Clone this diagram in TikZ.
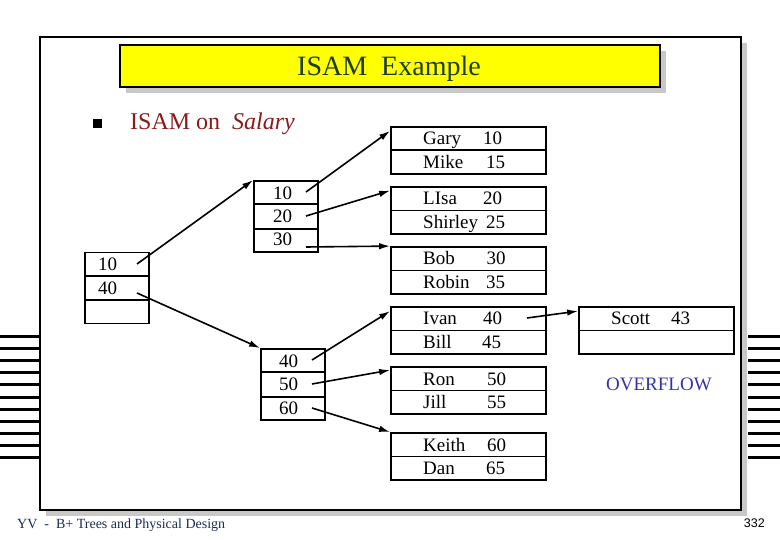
\documentclass[tikz,border=0pt]{standalone}
\usepackage{fontspec}
\setmainfont{Liberation Serif}
\newfontfamily\numfont{Liberation Sans}
\usetikzlibrary{arrows.meta,calc}
\definecolor{shadowgray}{RGB}{200,200,200}
\definecolor{titlegreen}{RGB}{30,60,30}
\definecolor{bulletred}{RGB}{139,26,26}
\definecolor{overblue}{RGB}{51,51,170}
\definecolor{footnavy}{RGB}{25,45,85}
\definecolor{titleyellow}{RGB}{255,255,0}
\begin{document}
\begin{tikzpicture}[x=1pt,y=-1pt,
  txt/.style={inner sep=0pt, anchor=base west, font=\fontsize{19}{21}\selectfont},
  idxbox/.style={draw, line width=1.8pt, minimum width=64pt, minimum height=71pt, inner sep=0pt},
  databox/.style={draw, line width=1.8pt, minimum width=155pt, minimum height=47pt, inner sep=0pt},
  divider/.style={line width=1.8pt},
  link/.style={line width=1.6pt, -{Latex[length=11pt,width=6.5pt]}},
  stripe/.style={line width=3pt},
]
\useasboundingbox (0,0) rectangle (780,540);
% side stripes
\foreach \i in {0,...,10}{
  \draw[stripe] (0,{337+12*\i}) -- (40,{337+12*\i});
  \draw[stripe] (748,{337+12*\i}) -- (780,{337+12*\i});
}
% frame
\fill[shadowgray] (46,43) rectangle (747,516);
\node[draw, fill=white, line width=2pt, minimum width=701pt, minimum height=473pt, inner sep=0pt] (frame) at (390.5,273.5) {};
% title
\fill[shadowgray] (126,51) rectangle (666,93);
\node[draw, fill=titleyellow, line width=1.8pt, minimum width=540pt, minimum height=42pt, inner sep=0pt] (title) at (390,66) {};
\node[anchor=base, inner sep=0pt, text=titlegreen, font=\fontsize{28}{30}\selectfont] (titletext) at (389,76) {ISAM\ \ Example};
% bullet
\node[fill=black, minimum size=9.5pt, inner sep=0pt] (bullet) at (97.7,123.3) {};
\node[anchor=base west, inner sep=0pt, text=bulletred, font=\fontsize{24}{26}\selectfont] (heading) at (130,129.5) {ISAM on\ \ \textit{Salary}};

% index nodes
\node[idxbox] (root) at (117,288) {};
\node[idxbox] (A) at (286,216.5) {};
\node[idxbox] (B) at (293,384.5) {};
\foreach \n in {root,A,B}{
  \draw[divider] ($(\n.north west)!0.3333!(\n.south west)$) -- ($(\n.north east)!0.3333!(\n.south east)$);
  \draw[divider] ($(\n.north west)!0.6667!(\n.south west)$) -- ($(\n.north east)!0.6667!(\n.south east)$);
}
\node[txt] (r10) at (98,271) {10};
\node[txt] (r40) at (98,294.5) {40};
\node[txt] (a10) at (273,199.2) {10};
\node[txt] (a20) at (273,222.5) {20};
\node[txt] (a30) at (273,245.8) {30};
\node[txt] (b40) at (279,367) {40};
\node[txt] (b50) at (279,390.5) {50};
\node[txt] (b60) at (279,414) {60};

% data pages
\node[databox] (gary) at (468.5,150.25) {};
\node[databox] (lisa) at (468.5,210.5) {};
\node[databox] (bob) at (468.5,270.5) {};
\node[databox] (ivan) at (468.5,330.5) {};
\node[databox] (ron) at (468.5,390.5) {};
\node[databox] (keith) at (468.5,456.5) {};
\node[databox] (scott) at (656.5,330.5) {};
\foreach \n in {gary,lisa,bob,ivan,ron,keith,scott}{
  \draw[divider] (\n.west) -- (\n.east);
}
\node[txt] (t1) at (423,145) {Gary};   \node[txt] (n1) at (483,145) {10};
\node[txt] (t2) at (423,168.5) {Mike}; \node[txt] (n2) at (486,168.5) {15};
\node[txt] (t3) at (423,205) {LIsa};   \node[txt] (n3) at (483,205) {20};
\node[txt] (t4) at (423,228.5) {Shirley}; \node[txt] (n4) at (486,228.5) {25};
\node[txt] (t5) at (423,265) {Bob};    \node[txt] (n5) at (486.5,265) {30};
\node[txt] (t6) at (423,288.5) {Robin}; \node[txt] (n6) at (486,288.5) {35};
\node[txt] (t7) at (423,325) {Ivan};   \node[txt] (n7) at (483,325) {40};
\node[txt] (t8) at (423,348.5) {Bill}; \node[txt] (n8) at (482,348.5) {45};
\node[txt] (t9) at (423,385) {Ron};    \node[txt] (n9) at (487,385) {50};
\node[txt] (t10) at (423,408.5) {Jill}; \node[txt] (n10) at (487,408.5) {55};
\node[txt] (t11) at (423,451) {Keith}; \node[txt] (n11) at (487,451) {60};
\node[txt] (t12) at (423,474.5) {Dan};  \node[txt] (n12) at (486,474.5) {65};
\node[txt] (t13) at (611,325) {Scott}; \node[txt] (n13) at (671,325) {43};
\node[txt, text=overblue] (overflow) at (606,390.5) {OVERFLOW};

% connectors
\coordinate (sr1) at (137,264);
\coordinate (sr2) at (137,293);
\coordinate (sa1) at (306,192);
\coordinate (sa2) at (306,216);
\coordinate (sa3) at (306,247);
\coordinate (sb1) at (312,360);
\coordinate (sb2) at (312,384);
\coordinate (sb3) at (312,408);
\coordinate (si1) at (527,318);
\draw[link] (sr1) -- (A.north west);
\draw[link] (sr2) -- (B.north west);
\draw[link] (sa1) -- ([yshift=-5pt]gary.north west);
\draw[link] (sa2) -- ([yshift=-4.5pt]lisa.north west);
\draw[link] (sa3) -- (bob.north west);
\draw[link] (sb1) -- ([yshift=-5pt]ivan.north west);
\draw[link] (sb2) -- ([yshift=-4pt]ron.north west);
\draw[link] (sb3) -- (keith.north west);
\draw[link] (si1) -- ([yshift=-5pt]scott.north west);

% footer
\node[anchor=base west, inner sep=0pt, text=footnavy, font=\fontsize{14}{16}\selectfont] (footer) at (17,528) {YV\ \ -\ \ B+ Trees and Physical Design};
\node[anchor=base east, inner sep=0pt, font=\numfont\fontsize{12.5}{14}\selectfont] (page) at (765,527) {332};
\end{tikzpicture}
\end{document}
